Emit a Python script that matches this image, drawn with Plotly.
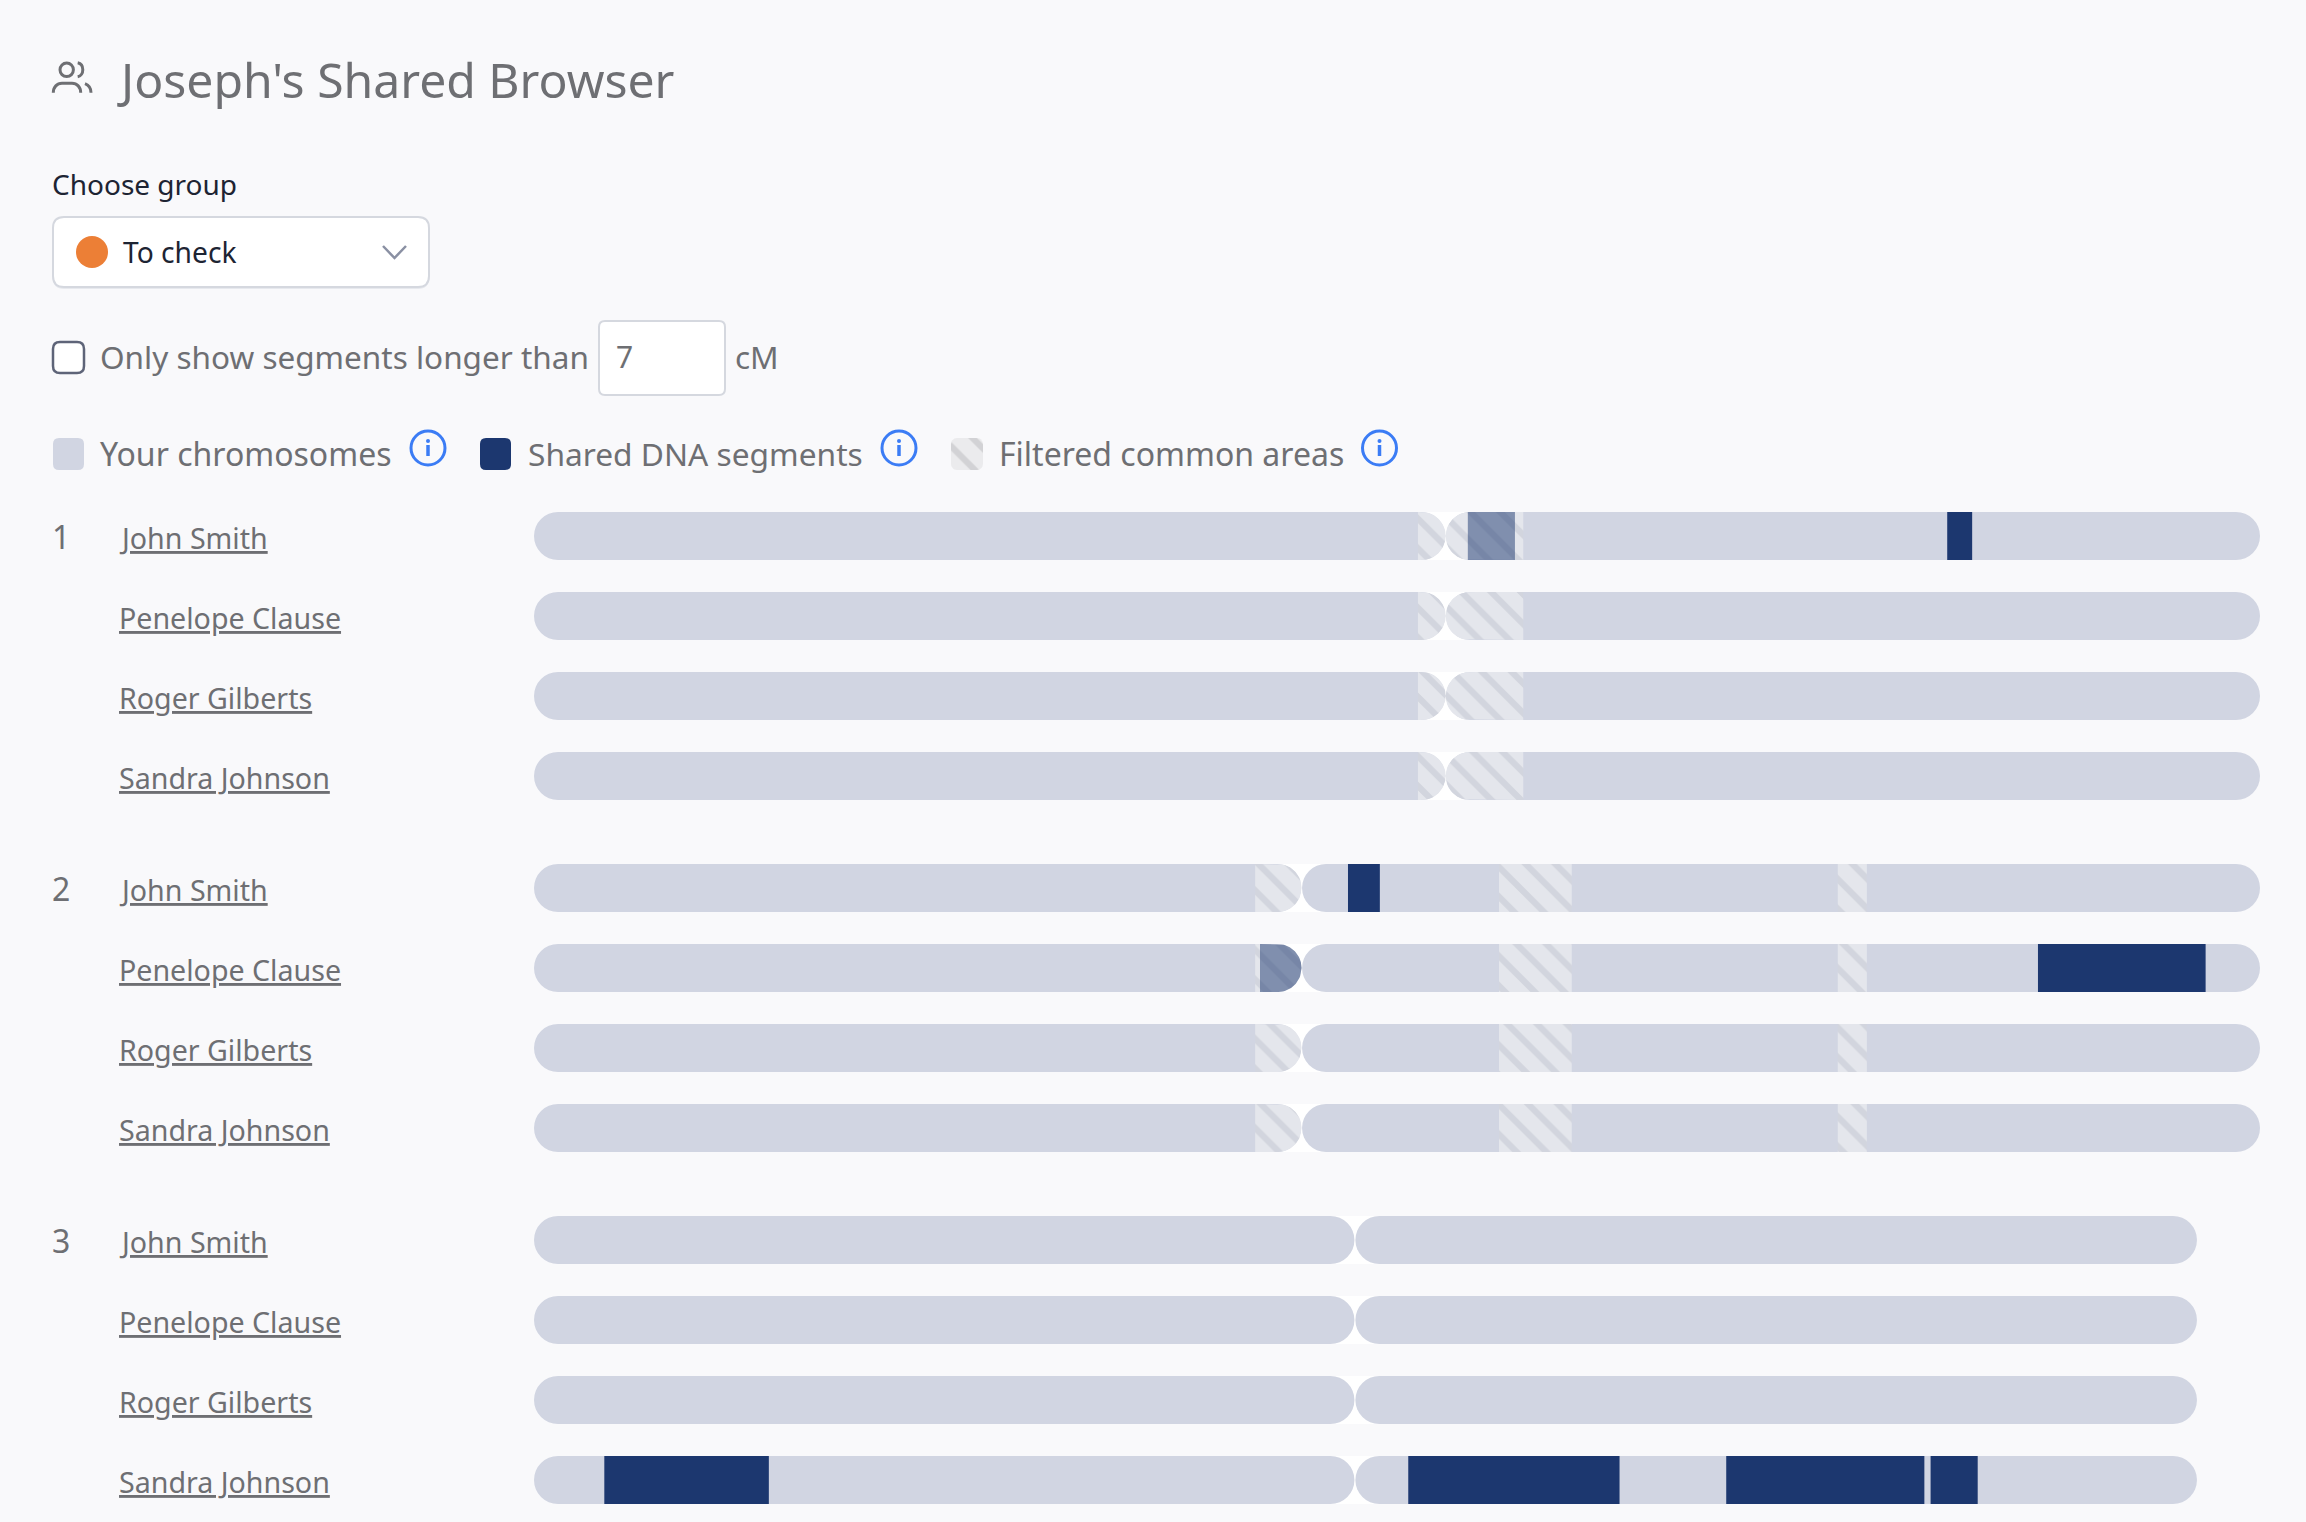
import numpy as np
import plotly.graph_objects as go

PAGE_W = 2306
PAGE_H = 1522
FONT = "Noto Sans"

RELATIVES = ["John Smith", "Penelope Clause", "Roger Gilberts", "Sandra Johnson"]
CHROMOSOMES = ["1", "2", "3"]

# everything below in Mb
CHR_LENGTHS = [249.15, 249.15, 240.05]
CENTROMERES = [131.6, 110.8, 118.5]
FILTERED_AREAS = [
    [(127.6, 142.8)],
    [(104.1, 110.8), (139.3, 149.8), (188.2, 192.4)],
    [],
]
# (chromosome, relative, start, end)
SHARED_SEGMENTS = [
    (0, 0, 204.0, 207.6),
    (1, 0, 117.5, 122.1),
    (1, 1, 217.1, 241.3),
    (2, 3, 10.15, 33.9),
    (2, 3, 126.2, 156.7),
    (2, 3, 172.1, 200.7),
    (2, 3, 201.6, 208.4),
]
SHARED_FILTERED = [
    (0, 0, 134.8, 141.6),
    (1, 1, 104.8, 110.8),
]

GREY_TEXT = "#6e6f73"
DARK_TEXT = "#1d2433"
BG = "#f9f9fb"
ARM = "#d1d5e2"
NAVY = "#1c376f"
BORDER = "#d5d8df"
BLUE = "#3b7cf5"

# pixel layout of the chart area
X_LEFT, X_RIGHT = 534, 2260
ROW_TOP, ROW_STEP, BAR_H = 536, 80, 48
GROUP_GAP = 0.4
MB_MAX = 249.15
R_PX = 24
R_MB = R_PX * MB_MAX / (X_RIGHT - X_LEFT)
HALF = BAR_H / ROW_STEP / 2


def row_pos(chrom, rel):
    return chrom * (len(RELATIVES) + GROUP_GAP) + rel


def half_height(x, lo, hi):
    """half height of a rounded arm spanning lo..hi at position x"""
    d = np.minimum(x - lo, hi - x)
    d = np.clip(d, 0, R_MB) / R_MB
    return HALF * np.sqrt(1 - (1 - d) ** 2)


def clipped_polys(spans):
    """outline of (chrom, rel, start, end) spans, cut to the rounded arm shape"""
    xs, ys = [], []
    for chrom, rel, start, end in spans:
        y0 = row_pos(chrom, rel)
        cent = CENTROMERES[chrom]
        arms = [(0, cent), (cent, CHR_LENGTHS[chrom])]
        for lo, hi in arms:
            a, b = max(start, lo), min(end, hi)
            if b <= a:
                continue
            x = np.linspace(a, b, 60)
            h = half_height(x, lo, hi)
            xs += list(x) + list(x[::-1]) + [x[0], None]
            ys += list(y0 - h) + list((y0 + h)[::-1]) + [y0 - h[0], None]
    return xs, ys


def rounded(x0, y0, x1, y1, r):
    return (
        f"M{x0 + r},{y0} L{x1 - r},{y0} Q{x1},{y0} {x1},{y0 + r} "
        f"L{x1},{y1 - r} Q{x1},{y1} {x1 - r},{y1} L{x0 + r},{y1} "
        f"Q{x0},{y1} {x0},{y1 - r} L{x0},{y0 + r} Q{x0},{y0} {x0 + r},{y0} Z"
    )


fig = go.Figure()

# bars: white notch, arms, then solid segments
arm_y, arm_base, arm_len = [], [], []
notch_y, notch_base = [], []
for c, (length, cent) in enumerate(zip(CHR_LENGTHS, CENTROMERES)):
    for r in range(len(RELATIVES)):
        y = row_pos(c, r)
        notch_y.append(y)
        notch_base.append(cent - R_MB)
        arm_y += [y, y]
        arm_base += [0, cent + 0.07]
        arm_len += [cent - 0.07, length - cent - 0.07]

fig.add_trace(go.Bar(
    y=notch_y, x=[2 * R_MB] * len(notch_y), base=notch_base, orientation="h", width=2 * HALF,
    marker=dict(color="white", line=dict(width=0)), hoverinfo="skip",
))
fig.add_trace(go.Bar(
    y=arm_y, x=arm_len, base=arm_base, orientation="h", width=2 * HALF,
    marker=dict(color=ARM, cornerradius=R_PX, line=dict(width=0)), hoverinfo="skip",
))
fig.add_trace(go.Bar(
    y=[row_pos(s[0], s[1]) for s in SHARED_SEGMENTS],
    x=[s[3] - s[2] for s in SHARED_SEGMENTS],
    base=[s[2] for s in SHARED_SEGMENTS],
    orientation="h", width=2 * HALF,
    marker=dict(color=NAVY, line=dict(width=0)), hoverinfo="skip",
))

# hatched filtered areas
filtered_spans = []
for c, areas in enumerate(FILTERED_AREAS):
    for r in range(len(RELATIVES)):
        for start, end in areas:
            filtered_spans.append((c, r, start, end))

hx, hy = clipped_polys(filtered_spans)
fig.add_trace(go.Scatter(
    x=hx, y=hy, mode="lines", line=dict(width=0), fill="toself", hoverinfo="skip",
    fillpattern=dict(shape="\\", bgcolor="#e4e6ec", fgcolor="#bfc3cf", size=21, solidity=0.3),
))
fx, fy = clipped_polys(SHARED_FILTERED)
fig.add_trace(go.Scatter(
    x=fx, y=fy, mode="lines", line=dict(width=0), fill="toself", hoverinfo="skip",
    fillcolor="rgba(28,55,111,0.5)",
))

# legend hatch swatch lives on the page axes
t = np.linspace(0, np.pi / 2, 8)
sw_x0, sw_y0, sw_x1, sw_y1, sw_r = 951, 438, 983, 470, 6
swatch_x = np.concatenate([
    sw_x1 - sw_r + sw_r * np.sin(t), sw_x1 - sw_r + sw_r * np.cos(t),
    sw_x0 + sw_r - sw_r * np.sin(t), sw_x0 + sw_r - sw_r * np.cos(t),
])
swatch_y = np.concatenate([
    sw_y0 + sw_r - sw_r * np.cos(t), sw_y1 - sw_r + sw_r * np.sin(t),
    sw_y1 - sw_r + sw_r * np.cos(t), sw_y0 + sw_r - sw_r * np.sin(t),
])
fig.add_trace(go.Scatter(
    x=swatch_x, y=swatch_y, xaxis="x2", yaxis="y2", mode="lines", line=dict(width=0),
    fill="toself", hoverinfo="skip",
    fillpattern=dict(shape="\\", bgcolor="#ebebed", fgcolor="#bababd", size=21, solidity=0.3),
))

shapes = []
annotations = []


def page_shape(**kw):
    shapes.append(dict(xref="x2", yref="y2", layer="above", **kw))


def box(x0, y0, x1, y1, r, fill, line=None, width=2):
    page_shape(type="path", path=rounded(x0, y0, x1, y1, r), fillcolor=fill,
               line=dict(color=line or fill, width=width if line else 0))


def label(text, x, y, size, color=GREY_TEXT):
    # annotations carry about 3px of padding on the left
    annotations.append(dict(
        text=text, x=x - 3, y=y, xref="x2", yref="y2", xanchor="left", yanchor="middle",
        showarrow=False, font=dict(family=FONT, size=size, color=color),
    ))


def info_icon(cx, cy):
    page_shape(type="circle", x0=cx - 17, y0=cy - 17, x1=cx + 17, y1=cy + 17,
               line=dict(color=BLUE, width=3))
    page_shape(type="line", x0=cx, y0=cy - 3, x1=cx, y1=cy + 8, line=dict(color=BLUE, width=3.5))
    page_shape(type="circle", x0=cx - 2, y0=cy - 9, x1=cx + 2, y1=cy - 5,
               fillcolor=BLUE, line=dict(width=0))


# people icon
icon_line = dict(color=GREY_TEXT, width=3)
page_shape(type="circle", x0=60, y0=63, x1=73.4, y1=76.6, line=icon_line)
page_shape(type="path", path="M53.3,92.7 C53.3,87 57,83.3 62,83.3 L72,83.3 C77,83.3 80.7,87 80.7,92.7", line=icon_line)
page_shape(type="path", path="M77.7,62.7 C84.5,64 84.5,75.5 77.7,76.7", line=icon_line)
page_shape(type="path", path="M85,83.6 C88.6,85 91,88 91,92.7", line=icon_line)

label("Joseph's Shared Browser", 118, 79.5, 48.1)
label("Choose group", 53, 184, 28, DARK_TEXT)

# group dropdown
box(53, 219, 429, 289, 11, "#e7e9ee")
box(53, 217, 429, 287, 11, "white", BORDER, 2)
page_shape(type="circle", x0=76, y0=236, x1=108, y1=268, fillcolor="#ec7f36", line=dict(width=0))
label("To check", 124, 252, 28.2, DARK_TEXT)
page_shape(type="path", path="M383,246 L394.5,258 L406,246", line=dict(color="#8a90a3", width=2.5))

# segment length filter
box(53, 342, 84, 373, 7, "white", "#5e6478", 2.5)
label("Only show segments longer than", 101, 356, 31.5)
box(599, 321, 725, 395, 6, "white", BORDER, 2)
label("7", 617, 356, 30)
label("cM", 736, 356, 31.5)

# legend
box(53, 438, 84, 470, 6, ARM)
label("Your chromosomes", 101, 453.5, 32)
info_icon(428, 448)
box(480, 438, 511, 470, 6, NAVY)
label("Shared DNA segments", 529, 453.5, 31.7)
info_icon(899, 448)
label("Filtered common areas", 1000, 453.5, 32)
info_icon(1379.5, 448)

# row labels
for c, chrom in enumerate(CHROMOSOMES):
    annotations.append(dict(
        text=chrom, x=50, y=row_pos(c, 0), xref="x2", yref="y", xanchor="left", yanchor="middle",
        showarrow=False, font=dict(family=FONT, size=32, color=GREY_TEXT),
    ))
    for r, name in enumerate(RELATIVES):
        annotations.append(dict(
            text=f"<u>{name}</u>", x=117, y=row_pos(c, r) + 0.018, xref="x2", yref="y",
            xanchor="left", yanchor="middle", showarrow=False,
            font=dict(family=FONT, size=28.6, color=GREY_TEXT),
        ))

fig.update_layout(
    width=PAGE_W,
    height=PAGE_H,
    margin=dict(l=0, r=0, t=0, b=0),
    paper_bgcolor=BG,
    plot_bgcolor="rgba(0,0,0,0)",
    barmode="overlay",
    showlegend=False,
    dragmode=False,
    shapes=shapes,
    annotations=annotations,
    xaxis=dict(domain=[X_LEFT / PAGE_W, X_RIGHT / PAGE_W], range=[0, MB_MAX], visible=False),
    yaxis=dict(
        domain=[0, 1 - (ROW_TOP - ROW_STEP / 2) / PAGE_H],
        range=[(PAGE_H - ROW_TOP) / ROW_STEP, -0.5],
        visible=False,
    ),
    xaxis2=dict(domain=[0, 1], range=[0, PAGE_W], visible=False, anchor="y2"),
    yaxis2=dict(domain=[0, 1], range=[PAGE_H, 0], visible=False, anchor="x2"),
)

fig.write_html(
    "out.html",
    config={"displayModeBar": False},
    post_script="document.body.style.margin='0';document.body.style.overflow='hidden';",
)
